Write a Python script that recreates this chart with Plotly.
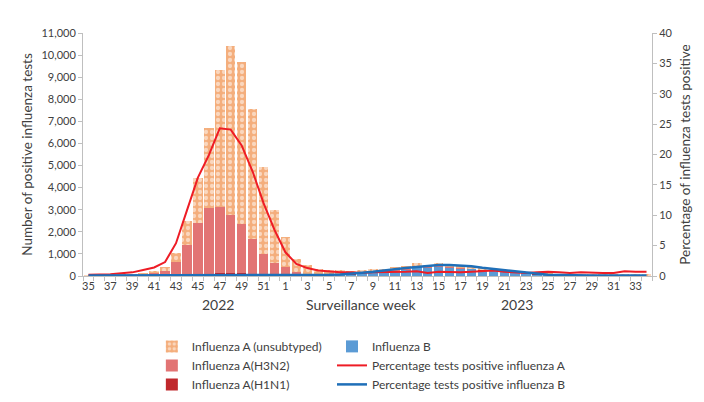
import plotly.graph_objects as go

weeks = [35, 36, 37, 38, 39, 40, 41, 42, 43, 44, 45, 46, 47, 48, 49, 50, 51, 52,
         1, 2, 3, 4, 5, 6, 7, 8, 9, 10, 11, 12, 13, 14, 15, 16, 17, 18, 19, 20,
         21, 22, 23, 24, 25, 26, 27, 28, 29, 30, 31, 32, 33, 34]

flu_a_unsubtyped = [25, 25, 30, 45, 55, 70, 120, 200, 415, 1075, 2045, 3585, 6205, 7675, 7305, 5915, 3955, 2370,
                    1370, 610, 380, 225, 175, 155, 110, 120, 115, 85, 135, 135, 150, 75, 135, 60, 65, 45, 25, 25,
                    25, 20, 20, 15, 15, 20, 20, 25, 25, 30, 30, 35, 35, 30]
flu_a_h3n2 = [5, 5, 10, 15, 25, 50, 110, 200, 590, 1380, 2330, 3020, 3000, 2620, 2250, 1560, 880, 540,
              350, 130, 60, 30, 20, 20, 15, 15, 20, 20, 20, 20, 25, 20, 20, 20, 25, 25, 30, 30,
              25, 20, 15, 10, 10, 10, 10, 10, 5, 5, 5, 5, 5, 5]
flu_a_h1n1 = [0, 0, 0, 0, 0, 2, 3, 5, 10, 20, 40, 60, 100, 110, 100, 90, 80, 50,
              30, 15, 10, 5, 5, 5, 5, 5, 5, 5, 5, 5, 5, 5, 5, 10, 10, 10, 15, 15,
              10, 10, 5, 5, 5, 5, 5, 5, 5, 5, 5, 5, 5, 5]
flu_b = [10, 10, 10, 10, 10, 10, 10, 15, 15, 15, 15, 15, 15, 15, 15, 15, 15, 20,
         20, 25, 30, 40, 60, 70, 90, 120, 170, 200, 240, 300, 410, 400, 420, 390, 350, 320, 270, 230,
         190, 160, 120, 90, 70, 55, 45, 40, 35, 30, 30, 25, 25, 20]
pct_a = [0.2, 0.2, 0.3, 0.45, 0.6, 1.0, 1.4, 2.3, 5.4, 10.8, 16.2, 19.9, 24.3, 24.1, 21.5, 17.2, 12.0, 7.6,
         3.9, 2.0, 1.3, 0.9, 0.7, 0.6, 0.6, 0.5, 0.6, 0.6, 0.7, 0.7, 0.8, 0.5, 0.7, 0.6, 0.6, 0.7, 0.8, 0.9,
         0.7, 0.6, 0.5, 0.6, 0.7, 0.6, 0.5, 0.6, 0.5, 0.5, 0.5, 0.8, 0.7, 0.7]
pct_b = [0.1, 0.1, 0.1, 0.1, 0.1, 0.1, 0.1, 0.1, 0.1, 0.1, 0.1, 0.1, 0.1, 0.1, 0.1, 0.1, 0.1, 0.1,
         0.1, 0.1, 0.15, 0.2, 0.2, 0.25, 0.35, 0.55, 0.7, 0.85, 1.1, 1.3, 1.5, 1.7, 1.8, 1.8, 1.75, 1.6, 1.35, 1.15,
         1.0, 0.8, 0.6, 0.4, 0.2, 0.15, 0.1, 0.1, 0.1, 0.1, 0.1, 0.1, 0.1, 0.1]

x = list(range(len(weeks)))
tick_vals = x[::2]
tick_text = [str(w) for w in weeks[::2]]

FONT = "Lato, 'Open Sans', sans-serif"
GREY = "#404040"
AXIS = "#BFBFBF"

fig = go.Figure()
fig.add_trace(go.Bar(x=x, y=flu_b, name="Influenza B", marker=dict(color="#5B9BD5", line=dict(width=0)),
                     legend="legend2", legendrank=1))
fig.add_trace(go.Bar(x=x, y=flu_a_h1n1, name="Influenza A(H1N1)", marker=dict(color="#C0282C", line=dict(width=0)),
                     legendrank=3))
fig.add_trace(go.Bar(x=x, y=flu_a_h3n2, name="Influenza A(H3N2)", marker=dict(color="#E27474", line=dict(width=0)),
                     legendrank=2))
fig.add_trace(go.Bar(x=x, y=flu_a_unsubtyped, name="Influenza A (unsubtyped)",
                     marker=dict(color="#F4AE7C", line=dict(width=0),
                                 pattern=dict(shape=".", fgcolor="white", size=6, solidity=0.4)),
                     legendrank=1))
fig.add_trace(go.Scatter(x=x, y=pct_a, name="Percentage tests positive influenza A", yaxis="y2",
                         mode="lines", line=dict(color="#EE1C25", width=2), legend="legend2", legendrank=2))
fig.add_trace(go.Scatter(x=x, y=pct_b, name="Percentage tests positive influenza B", yaxis="y2",
                         mode="lines", line=dict(color="#1F6FB8", width=2.5), legend="legend2", legendrank=3))

fig.update_layout(
    width=688, height=386,
    margin=dict(l=75, r=44, t=25, b=118, autoexpand=False),
    paper_bgcolor="white", plot_bgcolor="white",
    barmode="stack", bargap=0.13,
    font=dict(family=FONT, color=GREY, size=11),
    showlegend=True,
    xaxis=dict(range=[-0.5, 51.5], tickvals=tick_vals, ticktext=tick_text, showgrid=False,
               showline=True, linecolor=AXIS, linewidth=1, ticks="", zeroline=False, automargin=False,
               tickfont=dict(size=11, color=GREY),
               minor=dict(ticks="outside", ticklen=4, tick0=0.5, dtick=1, tickcolor=AXIS, showgrid=False)),
    yaxis=dict(range=[0, 11000], dtick=1000, tickformat=",", showgrid=False, zeroline=False, automargin=False,
               showline=True, linecolor=AXIS, ticks="outside", ticklen=4, tickcolor=AXIS,
               tickfont=dict(size=11, color=GREY),
               title=dict(text="Number of positive influenza tests", font=dict(size=13.5, color=GREY), standoff=5)),
    yaxis2=dict(range=[0, 40], dtick=5, overlaying="y", side="right", showgrid=False, zeroline=False,
                automargin=False,
                showline=True, linecolor=AXIS, ticks="outside", ticklen=4, tickcolor=AXIS,
                tickfont=dict(size=11, color=GREY),
                title=dict(text="Percentage of influenza tests positive", font=dict(size=13.5, color=GREY), standoff=8)),
    legend=dict(x=0.121, y=-0.23, xanchor="left", yanchor="top", orientation="v",
                font=dict(size=12, color=GREY), bgcolor="rgba(0,0,0,0)", tracegroupgap=0,
                itemwidth=30, traceorder="normal"),
    legend2=dict(x=0.4376, y=-0.23, xanchor="left", yanchor="top", orientation="v",
                 font=dict(size=12, color=GREY), bgcolor="rgba(0,0,0,0)", tracegroupgap=0,
                 itemwidth=30, traceorder="normal"),
    annotations=[
        dict(text="2022", x=0.206, y=-0.16, xref="paper", yref="paper", showarrow=False,
             font=dict(size=14, color=GREY)),
        dict(text="Surveillance week", x=0.488, y=-0.16, xref="paper", yref="paper", showarrow=False,
             font=dict(size=14, color=GREY)),
        dict(text="2023", x=0.794, y=-0.16, xref="paper", yref="paper", showarrow=False,
             font=dict(size=14, color=GREY)),
    ],
)

fig.write_html("out.html")
